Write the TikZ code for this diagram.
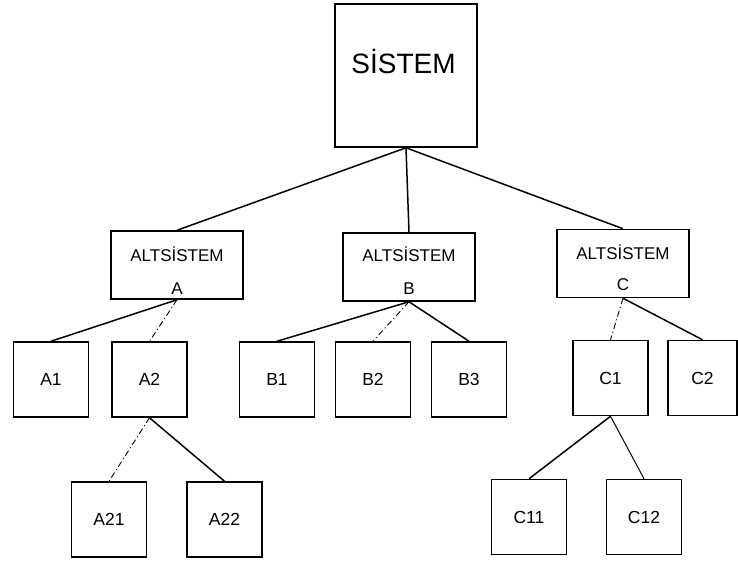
\documentclass[tikz,border=0pt]{standalone}
\usepackage{fontspec}
\setmainfont{Liberation Sans}
\begin{document}
\begin{tikzpicture}[x=1pt,y=-1pt,
  big/.style={draw, line width=1.6pt, minimum width=142pt, minimum height=143pt, inner sep=0pt},
  sub/.style={draw, line width=1.5pt, minimum width=132pt, minimum height=68pt, inner sep=0pt},
  subtxt/.style={inner sep=0pt, anchor=base, font=\fontsize{17}{20}\selectfont},
  leaf/.style={draw, line width=1.5pt, minimum width=75pt, minimum height=75pt, inner sep=0pt, font=\fontsize{17.5}{20}\selectfont},
  link/.style={line width=1.5pt},
  faintlink/.style={line width=0.9pt, dash pattern=on 6pt off 3pt on 1pt off 3pt},
  thinlink/.style={line width=1pt}]
\fill[white] (0,0) rectangle (738,562);
\useasboundingbox (0,0) rectangle (738,562);
% top
\node[big] (sistem) at (406,75.5) {};
\node[inner sep=0pt, anchor=base, font=\fontsize{28}{30}\selectfont] (sistemlbl) at (403.5,73) {SİSTEM};
% subsystems
\node[sub] (altA) at (177,265) {};
\node[subtxt] (altAt) at (177,261) {ALTSİSTEM};
\node[subtxt] (altAl) at (177,294) {A};
\node[sub] (altB) at (409,267) {};
\node[subtxt] (altBt) at (409,261) {ALTSİSTEM};
\node[subtxt] (altBl) at (409,294) {B};
\node[sub] (altC) at (623,263.5) {};
\node[subtxt] (altCt) at (623,259) {ALTSİSTEM};
\node[subtxt] (altCl) at (623,290) {C};
% second row
\node[leaf] (A1) at (51,379.5) {A1};
\node[leaf] (A2) at (149.5,379.5) {A2};
\node[leaf] (B1) at (277,379.5) {B1};
\node[leaf] (B2) at (373,379.5) {B2};
\node[leaf] (B3) at (469,379.5) {B3};
\node[leaf] (C1) at (610.5,378) {C1};
\node[leaf, minimum width=69pt] (C2) at (702.5,378) {C2};
% third row
\node[leaf] (A21) at (109,519.5) {A21};
\node[leaf] (A22) at (224.5,519.5) {A22};
\node[leaf] (C11) at (529,517) {C11};
\node[leaf] (C12) at (644,517) {C12};
% connectors
\draw[link] (sistem.south) -- (altA.north);
\draw[link] (sistem.south) -- (altB.north);
\draw[link] (sistem.south) -- (altC.north);
\draw[link] (altA.south) -- (A1.north);
\draw[faintlink] (altA.south) -- (A2.north);
\draw[link] (altB.south) -- (B1.north);
\draw[faintlink] (altB.south) -- (B2.north);
\draw[link] (altB.south) -- (B3.north);
\draw[faintlink] (altC.south) -- (C1.north);
\draw[link] (altC.south) -- (C2.north);
\draw[faintlink] (A2.south) -- (A21.north);
\draw[link] (A2.south) -- (A22.north);
\draw[link] (C1.south) -- (C11.north);
\draw[thinlink] (C1.south) -- (C12.north);
\end{tikzpicture}
\end{document}
